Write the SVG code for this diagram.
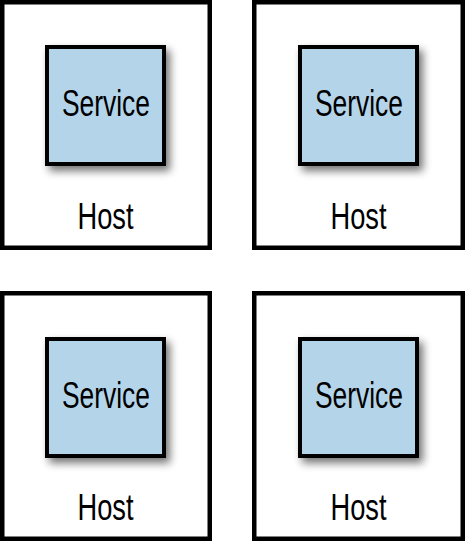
<svg xmlns="http://www.w3.org/2000/svg" width="465" height="541" viewBox="0 0 465 541">
<style>
.host{fill:#fff;stroke:#000;stroke-width:4.5}
.svc{fill:#b4d4ea;stroke:#000;stroke-width:4}
.t{font-family:"Liberation Sans",Arial,sans-serif;font-size:37px;fill:#000;text-anchor:middle}
</style>
<defs>
<filter id="sh" x="-20%" y="-20%" width="150%" height="150%">
<feGaussianBlur in="SourceAlpha" stdDeviation="4"/>
<feOffset dx="4" dy="5" result="b"/>
<feComponentTransfer><feFuncA type="linear" slope="0.55"/></feComponentTransfer>
<feMerge><feMergeNode/><feMergeNode in="SourceGraphic"/></feMerge>
</filter>
</defs>
<rect width="465" height="541" fill="#fff"/>
<g id="host1">
<rect class="host" x="2.25" y="2.25" width="207.5" height="245.5"/>
<text class="t" x="105.5" y="229" textLength="56" lengthAdjust="spacingAndGlyphs">Host</text>
</g>
<g id="service1">
<rect class="svc" x="47" y="47" width="117" height="117" filter="url(#sh)"/>
<text class="t" x="106" y="116" textLength="88" lengthAdjust="spacingAndGlyphs">Service</text>
</g>
<g id="host2">
<rect class="host" x="254.25" y="2.25" width="208.5" height="245.5"/>
<text class="t" x="358.5" y="229" textLength="56" lengthAdjust="spacingAndGlyphs">Host</text>
</g>
<g id="service2">
<rect class="svc" x="300" y="47" width="117" height="117" filter="url(#sh)"/>
<text class="t" x="359" y="116" textLength="88" lengthAdjust="spacingAndGlyphs">Service</text>
</g>
<g id="host3">
<rect class="host" x="2.25" y="293.25" width="207.5" height="245.5"/>
<text class="t" x="105.5" y="520" textLength="56" lengthAdjust="spacingAndGlyphs">Host</text>
</g>
<g id="service3">
<rect class="svc" x="47" y="339" width="117" height="117" filter="url(#sh)"/>
<text class="t" x="106" y="408" textLength="88" lengthAdjust="spacingAndGlyphs">Service</text>
</g>
<g id="host4">
<rect class="host" x="254.25" y="293.25" width="208.5" height="245.5"/>
<text class="t" x="358.5" y="520" textLength="56" lengthAdjust="spacingAndGlyphs">Host</text>
</g>
<g id="service4">
<rect class="svc" x="300" y="339" width="117" height="117" filter="url(#sh)"/>
<text class="t" x="359" y="408" textLength="88" lengthAdjust="spacingAndGlyphs">Service</text>
</g>
<g id="connectors"></g>
</svg>
